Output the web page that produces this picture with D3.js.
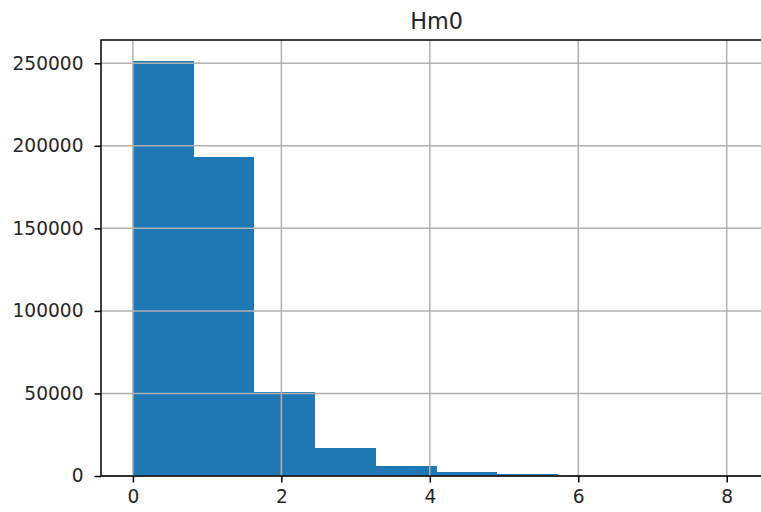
<!DOCTYPE html>
<html>
<head>
<meta charset="utf-8">
<script src="https://cdn.jsdelivr.net/npm/d3@7"></script>
<style>
  html, body { margin: 0; padding: 0; background: #fff; }
  svg { display: block; font-family: "DejaVu Sans", sans-serif; }
</style>
</head>
<body>
<svg id="chart" width="761" height="512"></svg>
<script>
// ===== Data: Hm0 histogram (10 bins) =====
const title    = 'Hm0';
const binEdges = [0, 0.818, 1.636, 2.454, 3.272, 4.09, 4.908, 5.726, 6.544, 7.362, 8.18];
const counts   = [251500, 193200, 50600, 17000, 6100, 2400, 1200, 300, 60, 10];
const xTicks   = [0, 2, 4, 6, 8];
const yTicks   = [0, 50000, 100000, 150000, 200000, 250000];

// ===== Layout =====
const plot = { left: 101, right: 772, top: 40, bottom: 476 };
const tickFont  = 18.6;
const titleFont = 22.3;
const tickLen   = 6.5;
const lineW     = 1.5;

const svg = d3.select('#chart');

const x = d3.scaleLinear().domain([-0.43, 8.61]).range([plot.left, plot.right]);
const y = d3.scaleLinear().domain([0, d3.max(counts) * 1.05]).range([plot.bottom, plot.top]);

const bins = counts.map((c, i) => ({ x0: binEdges[i], x1: binEdges[i + 1], count: c }));

// --- Bars (crisp edges so neighbouring bins don't show seams) ---
svg.append('g')
    .attr('shape-rendering', 'crispEdges')
    .selectAll('rect')
    .data(bins)
    .join('rect')
    .attr('x', d => x(d.x0))
    .attr('width', d => x(d.x1) - x(d.x0))
    .attr('y', d => y(d.count))
    .attr('height', d => y(0) - y(d.count))
    .attr('fill', '#1f77b4');

// --- Grid (drawn above bars, like matplotlib) ---
const grid = svg.append('g')
    .attr('stroke', '#b0b0b0')
    .attr('stroke-width', lineW);

grid.selectAll('line.gx')
    .data(xTicks)
    .join('line')
    .attr('class', 'gx')
    .attr('x1', d => x(d)).attr('x2', d => x(d))
    .attr('y1', plot.top).attr('y2', plot.bottom);

grid.selectAll('line.gy')
    .data(yTicks)
    .join('line')
    .attr('class', 'gy')
    .attr('x1', plot.left).attr('x2', plot.right)
    .attr('y1', d => y(d)).attr('y2', d => y(d));

// --- Axes ---
const xAxis = svg.append('g')
    .attr('transform', `translate(0,${plot.bottom})`)
    .call(d3.axisBottom(x).tickValues(xTicks).tickFormat(d3.format('d'))
        .tickSizeInner(tickLen).tickSizeOuter(0).tickPadding(7));

const yAxis = svg.append('g')
    .attr('transform', `translate(${plot.left},0)`)
    .call(d3.axisLeft(y).tickValues(yTicks).tickFormat(d3.format('d'))
        .tickSizeInner(tickLen).tickSizeOuter(0).tickPadding(11));

[xAxis, yAxis].forEach(a => {
    a.select('.domain').remove();
    a.selectAll('.tick line').attr('stroke', '#000').attr('stroke-width', lineW);
    a.selectAll('.tick text')
        .attr('fill', '#262626')
        .style('font-size', tickFont + 'px')
        .style('font-family', '"DejaVu Sans", sans-serif');
});

// --- Spines ---
svg.append('rect')
    .attr('x', plot.left).attr('y', plot.top)
    .attr('width', plot.right - plot.left)
    .attr('height', plot.bottom - plot.top)
    .attr('fill', 'none')
    .attr('stroke', '#000')
    .attr('stroke-width', lineW);

// --- Title ---
svg.append('text')
    .attr('x', (plot.left + plot.right) / 2)
    .attr('y', plot.top - 11)
    .attr('text-anchor', 'middle')
    .attr('fill', '#262626')
    .style('font-size', titleFont + 'px')
    .text(title);
</script>
</body>
</html>
